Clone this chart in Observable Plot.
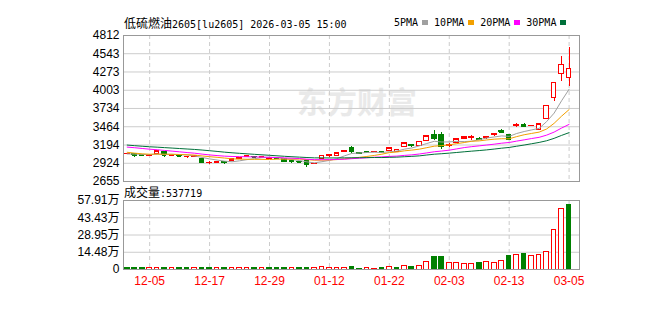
<!DOCTYPE html>
<html><head><meta charset="utf-8">
<script src="https://cdn.jsdelivr.net/npm/d3@7"></script>
<script src="https://cdn.jsdelivr.net/npm/@observablehq/plot@0.6"></script>
<style>
html,body{margin:0;padding:0;background:#fff;}
#wrap{position:relative;width:668px;height:312px;overflow:hidden;font-family:'Liberation Sans','Noto Sans CJK SC',sans-serif;}
.abs{position:absolute;white-space:nowrap;}
.cjk{font-family:'Noto Sans CJK SC';font-size:12px;}
.mono{font-family:'DejaVu Sans Mono','Liberation Mono',monospace;font-size:10px;}
#legend{display:flex;align-items:center;}
#legend .it{display:flex;align-items:center;margin-right:6px;}
#legend .sq{display:inline-block;width:6px;height:5px;margin-left:4px;}
</style></head><body>
<div id="wrap">
  <div id="wm" class="abs" style="left:297px;top:80px;font-family:'Noto Sans CJK SC';font-weight:bold;font-size:30px;line-height:40px;color:#e9e9e9;"></div>
  <div id="title" class="abs" style="left:124px;top:14px;line-height:17px;color:#000;"></div>
  <div id="legend" class="abs" style="left:394px;top:14px;height:17px;color:#000;"></div>
  <div id="c1" class="abs" style="left:0;top:24px;"></div>
  <div id="vtitle" class="abs" style="left:124px;top:183px;line-height:17px;color:#000;"></div>
  <div id="c2" class="abs" style="left:0;top:188px;"></div>
</div>
<script>
// ---------- data ----------
const titleName = "低硫燃油";
const titleRest = "2605[lu2605] 2026-03-05 15:00";
const watermark = "东方财富";
const volTitle = "成交量";
const volLast = ":537719";

const dates = ["12-02","12-03","12-04","12-05","12-08","12-09","12-10","12-11","12-12","12-15",
"12-16","12-17","12-18","12-19","12-22","12-23","12-24","12-25","12-26","12-29",
"12-30","12-31","01-05","01-06","01-07","01-08","01-09","01-12","01-13","01-14",
"01-15","01-16","01-19","01-20","01-21","01-22","01-23","01-26","01-27","01-28",
"01-29","01-30","02-02","02-03","02-04","02-05","02-06","02-09","02-10","02-11",
"02-12","02-13","02-24","02-25","02-26","02-27","03-02","03-03","03-04","03-05"];

const open = [3060,3056,3050,3035,3059,3085,3040,3035,3010,3020,
2985,2925,2935,2945,2952,2990,3010,3020,3010,2990,
2995,2985,2960,2945,2960,2912,2985,3030,3026,3095,
3148,3072,3090,3085,3092,3111,3096,3167,3195,3182,
3254,3345,3345,3180,3231,3276,3300,3290,3293,3345,
3395,3345,3472,3495,3470,3420,3579,3891,4248,4188];

const high = [3070,3060,3055,3055,3105,3090,3050,3040,3025,3030,
2990,2945,2955,2955,2990,3010,3030,3025,3020,3005,
3000,2990,2970,2955,2965,2925,3040,3055,3076,3120,
3172,3075,3105,3097,3105,3150,3128,3225,3200,3250,
3328,3415,3384,3210,3290,3315,3330,3300,3320,3370,
3420,3350,3510,3505,3480,3502,3775,4120,4505,4634];

const low = [3055,3014,3025,3022,3055,3015,3030,3010,2990,3015,
2930,2900,2915,2910,2945,2985,3005,3010,3005,2985,
2985,2940,2925,2930,2860,2905,2980,3015,3020,3080,
3068,3060,3068,3080,3065,3105,3090,3160,3160,3175,
3250,3256,3130,3160,3225,3270,3265,3255,3270,3320,
3370,3270,3450,3455,3465,3405,3575,3840,4138,4063];

const close = [3065,3044,3040,3045,3100,3045,3045,3028,3018,3025,
2937,2935,2945,2935,2982,3005,3025,3015,3015,3000,
2990,2945,2950,2940,2900,2915,3034,3042,3071,3105,
3097,3065,3080,3092,3085,3145,3121,3219,3180,3242,
3320,3283,3167,3190,3279,3306,3310,3275,3318,3355,
3385,3275,3487,3465,3475,3499,3772,4114,4381,4322];

// closes of the 29 sessions before the first shown one (feed the moving averages only)
const priorClose = [3310,3295,3280,3270,3255,3240,3235,3225,3215,3205,
3230,3255,3270,3260,3245,3250,3235,3230,3215,3210,
3170,3140,3105,3080,3060,3050,3070,3055,3070];

const volume = [8500,9200,8800,9500,10200,9000,8700,9300,9800,8900,
10500,9600,9100,8800,10800,9400,9700,8600,9000,9300,
8900,9500,9900,8700,11000,9200,20500,9600,10400,8800,
25000,8000,8500,8200,8700,17000,16500,31000,25000,31500,
65000,101000,101500,51000,56000,48000,48500,51500,65500,56500,
73000,110000,124000,126500,115000,124500,149000,329000,511000,537719];

const priceTicks = [2655,2924,3194,3464,3734,4003,4273,4543,4812];
const volTicks = [0,144775,289550,434325,579100];
const volTickLabels = ["0","14.48万","28.95万","43.43万","57.91万"];
const tickDates = ["12-05","12-17","12-29","01-12","01-22","02-03","02-13","03-05"];

const maLabels = ["5PMA","10PMA","20PMA","30PMA"];
const maPeriods = [5,10,20,30];
const maColors = ["#a0a0a0","#f2a000","#ff00ff","#00703a"];

const RED = "#ff0000", GREEN = "#008000";

// ---------- derived table ----------
const P = priorClose.length;
const allClose = priorClose.concat(close);
function ma(n, i){ let s=0; for(let k=P+i-n+1;k<=P+i;k++) s+=allClose[k]; return s/n; }
const rows = dates.map((d,i)=>{
  const r = {i, date:d, o:open[i], h:high[i], l:low[i], c:close[i], v:volume[i]};
  r.up = r.c >= r.o;
  r.vup = r.c >= allClose[P+i-1];
  maPeriods.forEach(n=>{ r["ma"+n] = ma(n,i); });
  return r;
});
const tickIdx = tickDates.map(d=>dates.indexOf(d));
const xDomain = [-0.494, 60.39];
const HW = 0.31;
const font = "'Liberation Sans','Noto Sans CJK SC',sans-serif";

// ---------- header texts ----------
document.getElementById("wm").textContent = watermark;
document.getElementById("title").innerHTML =
  `<span class="cjk">${titleName}</span><span class="mono">${titleRest}</span>`;
document.getElementById("vtitle").innerHTML =
  `<span class="cjk">${volTitle}</span><span class="mono">${volLast}</span>`;
document.getElementById("legend").innerHTML = maLabels.map((l,k)=>
  `<span class="it"><span class="mono">${l}</span><span class="sq" style="background:${maColors[k]}"></span></span>`).join("");

// ---------- price panel ----------
const c1 = Plot.plot({
  width:668, height:167, marginTop:11, marginBottom:10, marginLeft:123, marginRight:89,
  style:{background:"transparent", fontFamily:font, fontSize:"12px", color:"#000"},
  x:{type:"linear", domain:xDomain, axis:null},
  y:{domain:[2655,4812], axis:null},
  color:{type:"identity"},
  marks:[
    Plot.gridY(priceTicks,{stroke:"#cccccc", strokeOpacity:1}),
    Plot.gridX(tickIdx,{stroke:"#cccccc", strokeOpacity:1, strokeDasharray:"4,3"}),
    Plot.axisY(priceTicks,{label:null, tickSize:0, tickPadding:4, fontSize:12, tickFormat:d=>String(d)}),
    Plot.ruleX(rows,{x:"i", y1:"l", y2:"h", stroke:d=>d.up?RED:GREEN, shapeRendering:"crispEdges"}),
    Plot.rect(rows,{x1:d=>d.i-HW, x2:d=>d.i+HW, y1:"o", y2:"c",
      fill:d=>d.up?"#ffffff":GREEN, stroke:d=>d.up?RED:GREEN, shapeRendering:"crispEdges"}),
    Plot.ruleY(rows,{y:"c", x1:d=>d.i-HW, x2:d=>d.i+HW, stroke:d=>d.up?RED:GREEN, shapeRendering:"crispEdges"}),
    ...maPeriods.map((n,k)=>Plot.line(rows,{x:"i", y:"ma"+n, stroke:maColors[k], strokeWidth:1})),
    Plot.frame({stroke:"#999999"})
  ]
});
document.getElementById("c1").appendChild(c1);

// ---------- volume panel ----------
const c2 = Plot.plot({
  width:668, height:124, marginTop:12, marginBottom:43, marginLeft:123, marginRight:89,
  style:{background:"transparent", fontFamily:font, fontSize:"12px", color:"#000"},
  x:{type:"linear", domain:xDomain, axis:null},
  y:{domain:[0,579100], axis:null},
  color:{type:"identity"},
  marks:[
    Plot.gridY(volTicks,{stroke:"#cccccc", strokeOpacity:1}),
    Plot.gridX(tickIdx,{stroke:"#cccccc", strokeOpacity:1, strokeDasharray:"4,3"}),
    Plot.axisY(volTicks,{label:null, tickSize:0, tickPadding:4, fontSize:12, tickFormat:v=>volTickLabels[volTicks.indexOf(v)]}),
    Plot.axisX(tickIdx,{label:null, anchor:"bottom", tickSize:0, tickPadding:7, fontSize:12, color:"#ff0000", tickFormat:i=>dates[i]}),
    Plot.rect(rows,{x1:d=>d.i-HW, x2:d=>d.i+HW, y1:0, y2:"v",
      fill:d=>d.vup?"#ffffff":GREEN, stroke:d=>d.vup?RED:GREEN, shapeRendering:"crispEdges"}),
    Plot.frame({stroke:"#999999"})
  ]
});
document.getElementById("c2").appendChild(c2);
</script>
</body></html>
